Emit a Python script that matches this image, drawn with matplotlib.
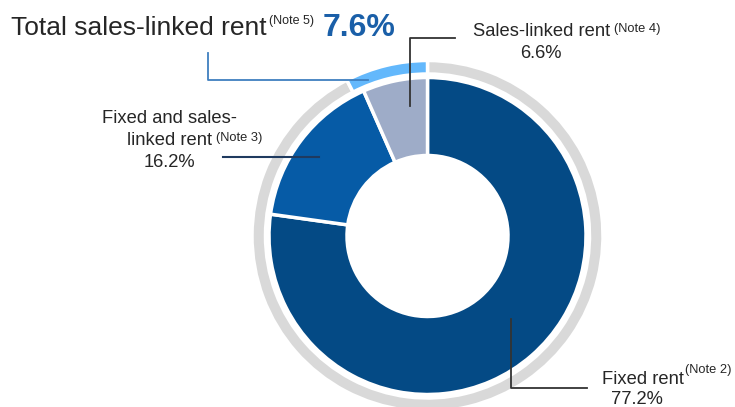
import matplotlib
matplotlib.use("Agg")
import matplotlib.pyplot as plt

plt.rcParams["font.family"] = ["Liberation Sans", "DejaVu Sans"]

# rent structure (inner ring), clockwise from 12 o'clock
inner_labels = ["Fixed rent", "Fixed and sales-linked rent", "Sales-linked rent"]
inner_values = [77.2, 16.2, 6.6]
inner_colors = ["#044a85", "#065ba6", "#9eacc8"]

# outer ring: total sales-linked share vs the rest
outer_values = [92.4, 7.6]
outer_colors = ["#d9d9d9", "#63b8fc"]
total_sales_linked = 7.6

W, H = 735, 407
fig = plt.figure(figsize=(W / 100, H / 100), dpi=100)
ax = fig.add_axes([0, 0, 1, 1])
ax.set_xlim(0, W)
ax.set_ylim(0, H)
ax.set_aspect("equal")
ax.axis("off")

def py(y):
    # pixel row (from top) -> data y
    return H - y

cx, cy = 427.5, py(236)

ax.pie(outer_values, colors=outer_colors, radius=175.5, center=(cx, cy),
       startangle=90, counterclock=False,
       wedgeprops=dict(width=13.5, edgecolor="white", linewidth=2.5))
ax.pie(inner_values, colors=inner_colors, radius=158.5, center=(cx, cy),
       startangle=90, counterclock=False,
       wedgeprops=dict(width=78, edgecolor="white", linewidth=2.5))
ax.set_xlim(0, W)
ax.set_ylim(0, H)

txt = "#262626"
fig.canvas.draw()
renderer = fig.canvas.get_renderer()

def right_of(t, gap=2):
    bb = t.get_window_extent(renderer)
    return bb.x1 + gap

# total sales-linked title
t1 = ax.text(11, py(35), "Total sales-linked rent", fontsize=19, color=txt,
             ha="left", va="baseline")
x = right_of(t1, 2)
t2 = ax.text(x, py(24), "(Note 5)", fontsize=9, color=txt, ha="left", va="baseline")
x = right_of(t2, 9)
ax.text(x, py(36), f"{total_sales_linked}%", fontsize=23, fontweight="bold",
        color="#1a5fa8", ha="left", va="baseline")
ax.plot([208, 208, 368], [py(53), py(80), py(80)], color="#3f7fbf", lw=1.3)

# sales-linked rent
ax.plot([410, 410, 455], [py(106), py(38), py(38)], color="#333333", lw=1.3)
t = ax.text(473, py(36), "Sales-linked rent", fontsize=13.2, color=txt,
            ha="left", va="baseline")
ax.text(right_of(t, 4), py(32), "(Note 4)", fontsize=9.3, color=txt,
        ha="left", va="baseline")
ax.text(541, py(58), f"{inner_values[2]}%", fontsize=13.2, color=txt,
        ha="center", va="baseline")

# fixed and sales-linked rent
ax.text(102, py(123), "Fixed and sales-", fontsize=13.2, color=txt,
        ha="left", va="baseline")
t = ax.text(127, py(145), "linked rent", fontsize=13.2, color=txt,
            ha="left", va="baseline")
ax.text(right_of(t, 4), py(141), "(Note 3)", fontsize=9.3, color=txt,
        ha="left", va="baseline")
ax.text(169, py(167), f"{inner_values[1]}%", fontsize=13.2, color=txt,
        ha="center", va="baseline")
ax.plot([223, 319], [py(157), py(157)], color="#1f3a5f", lw=1.5)

# fixed rent
ax.plot([511, 511, 587], [py(319), py(388), py(388)], color="#333333", lw=1.3)
t = ax.text(602, py(384), "Fixed rent", fontsize=13.2, color=txt,
            ha="left", va="baseline")
ax.text(right_of(t, 1), py(373), "(Note 2)", fontsize=9.3, color=txt,
        ha="left", va="baseline")
ax.text(637, py(404), f"{inner_values[0]}%", fontsize=13.2, color=txt,
        ha="center", va="baseline")

fig.savefig("out.png", dpi=100)
